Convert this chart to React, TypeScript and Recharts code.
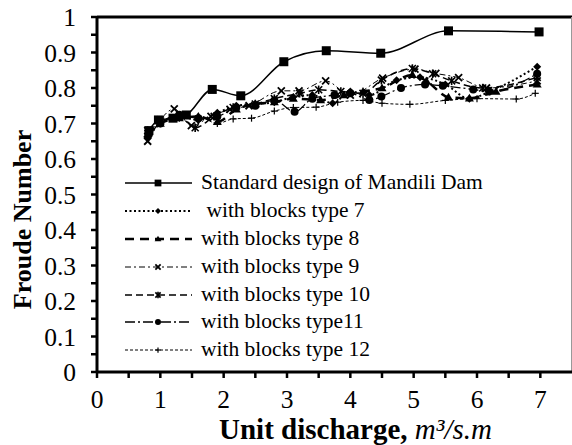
import React from 'react';
import { LineChart, Line, XAxis, YAxis, ReferenceLine, Legend, Label } from 'recharts';

// ---- data ----
const stdX = [0.82, 0.97, 1.2, 1.41, 1.82, 2.27, 2.95, 3.62, 4.48, 5.55, 6.98];
const stdY = [0.68, 0.71, 0.715, 0.724, 0.796, 0.778, 0.874, 0.905, 0.898, 0.961, 0.958];

const t7X = [0.8, 1.0, 1.3, 1.6, 1.9, 2.2, 2.5, 2.8, 3.1, 3.4, 3.72, 4.0, 4.3, 4.73, 5.1, 5.5, 5.88, 6.2, 6.95];
const t7Y = [0.66, 0.7, 0.72, 0.71, 0.73, 0.75, 0.755, 0.76, 0.775, 0.78, 0.757, 0.79, 0.78, 0.822, 0.83, 0.81, 0.77, 0.79, 0.86];

const t8X = [0.8, 1.0, 1.3, 1.6, 1.9, 2.2, 2.5, 2.8, 3.1, 3.53, 3.9, 4.2, 4.5, 4.98, 5.2, 5.55, 5.88, 6.3, 6.95];
const t8Y = [0.67, 0.7, 0.715, 0.72, 0.705, 0.74, 0.755, 0.76, 0.77, 0.766, 0.78, 0.79, 0.8, 0.837, 0.82, 0.774, 0.771, 0.79, 0.81];

const t9X = [0.8, 1.0, 1.22, 1.49, 1.8, 2.1, 2.4, 2.91, 3.19, 3.61, 4.0, 4.51, 5.02, 5.35, 5.71, 6.15, 6.95];
const t9Y = [0.65, 0.71, 0.741, 0.694, 0.72, 0.74, 0.75, 0.792, 0.792, 0.82, 0.78, 0.828, 0.853, 0.841, 0.829, 0.8, 0.82];

const t10X = [0.8, 1.0, 1.3, 1.55, 1.85, 2.15, 2.5, 2.8, 3.2, 3.5, 3.85, 4.2, 4.49, 4.98, 5.3, 5.6, 6.09, 6.95];
const t10Y = [0.68, 0.705, 0.72, 0.688, 0.72, 0.745, 0.755, 0.77, 0.785, 0.795, 0.79, 0.785, 0.822, 0.855, 0.84, 0.82, 0.8, 0.83];

const t11X = [0.82, 1.0, 1.3, 1.6, 1.9, 2.2, 2.5, 2.8, 3.12, 3.4, 3.75, 4.0, 4.3, 4.49, 4.8, 5.18, 5.46, 5.94, 6.19, 6.95];
const t11Y = [0.67, 0.7, 0.725, 0.715, 0.72, 0.745, 0.75, 0.765, 0.733, 0.77, 0.78, 0.785, 0.766, 0.776, 0.8, 0.81, 0.806, 0.796, 0.79, 0.84];

const t12X = [0.8, 1.0, 1.3, 1.6, 1.9, 2.15, 2.44, 2.8, 3.1, 3.46, 3.8, 4.2, 4.5, 4.94, 5.5, 6.0, 6.62, 6.92];
const t12Y = [0.68, 0.7, 0.715, 0.72, 0.7, 0.713, 0.715, 0.735, 0.745, 0.746, 0.76, 0.765, 0.757, 0.754, 0.765, 0.77, 0.769, 0.785];

const seriesNames = [
  'Standard design of Mandili Dam',
  ' with blocks type 7',
  'with blocks type 8',
  'with blocks type 9',
  'with blocks type 10',
  'with blocks type11',
  'with blocks type 12',
];

const xTicks = [0, 0.5, 1, 1.5, 2, 2.5, 3, 3.5, 4, 4.5, 5, 5.5, 6, 6.5, 7];
const yTicks = [0, 0.05, 0.1, 0.15, 0.2, 0.25, 0.3, 0.35, 0.4, 0.45, 0.5, 0.55, 0.6, 0.65, 0.7, 0.75, 0.8, 0.85, 0.9, 0.95, 1];

const zip = (xs: number[], ys: number[]) => xs.map((x, i) => ({ x, y: ys[i] }));

const series = [
  { name: seriesNames[0], data: zip(stdX, stdY), marker: 'square', dash: undefined, width: 1.5 },
  { name: seriesNames[1], data: zip(t7X, t7Y), marker: 'diamond', dash: '2 2.5', width: 2 },
  { name: seriesNames[2], data: zip(t8X, t8Y), marker: 'triangle', dash: '9 6', width: 2.5 },
  { name: seriesNames[3], data: zip(t9X, t9Y), marker: 'x', dash: '6 3 2 3', width: 1 },
  { name: seriesNames[4], data: zip(t10X, t10Y), marker: 'asterisk', dash: '7 4', width: 1.5 },
  { name: seriesNames[5], data: zip(t11X, t11Y), marker: 'circle', dash: '10 3 2 3', width: 1.3 },
  { name: seriesNames[6], data: zip(t12X, t12Y), marker: 'plus', dash: '3 2', width: 1 },
];

const FONT = '"Liberation Serif", "Times New Roman", serif';

function Marker({ cx, cy, kind, s = 1 }: { cx: number; cy: number; kind: string; s?: number }) {
  if (cx == null || cy == null) return null;
  switch (kind) {
    case 'square': {
      const h = 4.5 * s;
      return <rect x={cx - h} y={cy - h} width={2 * h} height={2 * h} fill="#000" />;
    }
    case 'diamond': {
      const r = 4 * s;
      return <polygon points={`${cx},${cy - r} ${cx + r},${cy} ${cx},${cy + r} ${cx - r},${cy}`} fill="#000" />;
    }
    case 'triangle': {
      const r = 4.5 * s;
      return <polygon points={`${cx},${cy - r} ${cx + r},${cy + r * 0.7} ${cx - r},${cy + r * 0.7}`} fill="#000" />;
    }
    case 'x': {
      const r = 3.5 * s;
      return (
        <g stroke="#000" strokeWidth={1.8}>
          <line x1={cx - r} y1={cy - r} x2={cx + r} y2={cy + r} />
          <line x1={cx - r} y1={cy + r} x2={cx + r} y2={cy - r} />
        </g>
      );
    }
    case 'asterisk': {
      const r = 3.5 * s;
      return (
        <g stroke="#000" strokeWidth={1.6}>
          <line x1={cx - r} y1={cy - r} x2={cx + r} y2={cy + r} />
          <line x1={cx - r} y1={cy + r} x2={cx + r} y2={cy - r} />
          <line x1={cx} y1={cy - r * 1.2} x2={cx} y2={cy + r * 1.2} />
        </g>
      );
    }
    case 'circle':
      return <circle cx={cx} cy={cy} r={4 * s} fill="#000" />;
    case 'plus': {
      const r = 3.5 * s;
      return (
        <g stroke="#000" strokeWidth={1.2}>
          <line x1={cx - r} y1={cy} x2={cx + r} y2={cy} />
          <line x1={cx} y1={cy - r} x2={cx} y2={cy + r} />
        </g>
      );
    }
    default:
      return null;
  }
}

const renderLegend = () => {
  return (
    <div style={{ fontFamily: FONT, fontSize: 21.5, color: '#000' }}>
      {series.map((cfg, i) => (
        <div key={i} style={{ display: 'flex', alignItems: 'center', height: 27.9, lineHeight: '27.9px' }}>
          <svg width={81} height={20} style={{ display: 'block' }}>
            <line x1={5} y1={10} x2={72} y2={10} stroke="#000" strokeWidth={cfg.width} strokeDasharray={cfg.dash} />
            <Marker cx={38} cy={10} kind={cfg.marker} s={0.75} />
          </svg>
          <span style={{ whiteSpace: 'pre' }}>{cfg.name}</span>
        </div>
      ))}
    </div>
  );
};

const XTitle = (props: any) => {
  const vb = props.viewBox || { x: 97, y: 372, width: 475 };
  return (
    <text x={vb.x + vb.width / 2 + 21} y={vb.y + 67} textAnchor="middle" fontFamily={FONT} fontSize={29} fill="#000">
      <tspan fontWeight="bold">Unit discharge, </tspan>
      <tspan fontStyle="italic">m³/s.m</tspan>
    </text>
  );
};

const YTitle = (props: any) => {
  const vb = props.viewBox || { x: 0, y: 17, height: 355 };
  const cx = 31;
  const cy = vb.y + vb.height / 2 + 25;
  return (
    <text x={cx} y={cy} transform={`rotate(-90, ${cx}, ${cy})`} textAnchor="middle" fontFamily={FONT} fontSize={26} fontWeight="bold" fill="#000">
      Froude Number
    </text>
  );
};

const fmtX = (v: number) => (Number.isInteger(v) ? String(v) : '');
const fmtY = (v: number) => {
  const k = Math.round(v * 100);
  if (k % 10 !== 0) return '';
  if (k === 0) return '0';
  if (k === 100) return '1';
  return (k / 100).toFixed(1);
};

export default function App() {
  return (
    <div style={{ position: 'absolute', left: 0, top: 0, width: 572, height: 445, background: '#fff' }}>
      <LineChart width={572} height={445} margin={{ top: 17, right: 0, left: 0, bottom: 0 }}>
        <XAxis
          type="number"
          dataKey="x"
          domain={[0, 7.5]}
          ticks={xTicks}
          tickFormatter={fmtX}
          interval={0}
          height={73}
          axisLine={{ stroke: '#000', strokeWidth: 3 }}
          tickLine={{ stroke: '#000', strokeWidth: 2.5 }}
          tickSize={6}
          tickMargin={12}
          tick={{ fill: '#000', fontFamily: FONT, fontSize: 25.5 }}
        >
          <Label content={<XTitle />} />
        </XAxis>
        <YAxis
          type="number"
          dataKey="y"
          domain={[0, 1]}
          ticks={yTicks}
          tickFormatter={fmtY}
          interval={0}
          width={97}
          axisLine={{ stroke: '#000', strokeWidth: 3 }}
          tickLine={{ stroke: '#000', strokeWidth: 2.5 }}
          tickSize={6}
          tickMargin={15}
          tick={{ fill: '#000', fontFamily: FONT, fontSize: 25.5 }}
        >
          <Label content={<YTitle />} />
        </YAxis>
        <ReferenceLine y={1} stroke="#000" strokeWidth={3} />
        <ReferenceLine x={7.5} stroke="#999" strokeWidth={2} />
        {series.map((s, i) => (
          <Line
            key={s.name}
            data={s.data}
            dataKey="y"
            name={s.name}
            type="monotone"
            stroke="#000"
            strokeWidth={s.width}
            strokeDasharray={s.dash}
            isAnimationActive={false}
            legendType="line"
            dot={(p: any) => <Marker key={`m${i}-${p.index}`} cx={p.cx} cy={p.cy} kind={s.marker} />}
            activeDot={false}
          />
        ))}
        <Legend
          layout="vertical"
          align="center"
          verticalAlign="middle"
          content={renderLegend}
          wrapperStyle={{ left: 120, top: 169, width: 380 }}
        />
      </LineChart>
    </div>
  );
}
